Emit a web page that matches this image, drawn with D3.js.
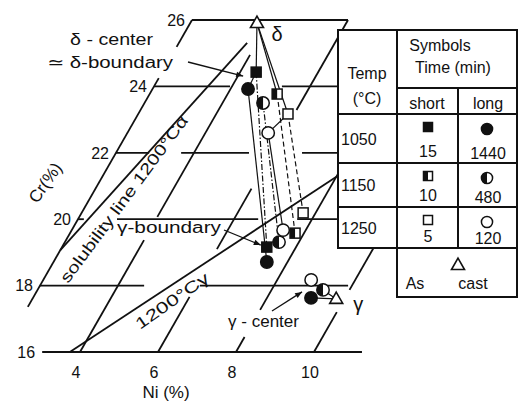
<!DOCTYPE html>
<html><head><meta charset="utf-8">
<script src="https://cdn.jsdelivr.net/npm/d3@7"></script>
<style>
body{margin:0;background:#fff}
svg{display:block}
text{font-family:"Liberation Sans",Arial,"DejaVu Sans",sans-serif;fill:#111}
</style>
</head><body>
<svg id="c" width="522" height="403"></svg>
<script>
// Ni–Cr composition chart on an oblique grid (Cr rises vertically, Ni lines lean right)
const crTicks = [16, 18, 20, 22, 24, 26];
const niTicks = [4, 6, 8, 10];

// heat treatments
const temps = [1050, 1150, 1250];
const shortTimes = [15, 10, 5];
const longTimes = [1440, 480, 120];

// symbol per measurement: square = short time, circle = long time
const symbolKeys = ["sqFull", "ciFull", "sqHalf", "ciHalf", "sqOpen", "ciOpen"];
// delta-ferrite center (≈ delta boundary), Ni % and Cr %
const deltaNi = [4.41, 4.45, 5.27, 5.04, 5.84, 5.61];
const deltaCr = [24.43, 23.92, 23.77, 23.50, 23.17, 22.60];
// gamma side of the delta/gamma boundary
const gBoundNi = [7.25, 7.47, 7.77, 7.49, 7.68, 7.42];
const gBoundCr = [19.16, 18.71, 19.58, 19.31, 20.19, 19.67];
// gamma center
const gCenterKeys = ["ciOpen", "ciHalf", "ciFull"];
const gCenterNi = [8.87, 9.32, 9.13];
const gCenterCr = [18.17, 17.87, 17.63];
// as-cast compositions [Ni, Cr]
const asCastDelta = [3.71, 25.91];
const asCastGamma = [9.79, 17.60];
// 1200 °C solubility lines, endpoints [Ni], [Cr]
const solAlphaNi = [2.0, 3.75];
const solAlphaCr = [19.07, 25.31];
const solGammaNi = [3.74, 8.1];
const solGammaCr = [16.0, 21.4];

const svg = d3.select("#c");
const ink = "#111";

const yCr = d3.scaleLinear().domain([16, 26]).range([352, 20]);
const xNi = d3.scaleLinear().domain([4, 10]).range([80, 314]);
const lean = 19 / 33.2;
function P(ni, cr) { const y = yCr(cr); return [xNi(ni) + lean * (yCr(16) - y), y]; }
const line = d3.line();

const gGrid = svg.append("g").attr("stroke", ink).attr("stroke-width", 1.8).attr("fill", "none");

// constant-Cr lines, drawn as Ni ranges (broken where labels and data sit)
const crSegs = {
  16: [[3.03, 11.23]],
  18: [[2.0, 4.67], [6.1, 9.9]],
  20: [[2.0, 2.15], [3.0, 6.62], [7.62, 8.64]],
  22: [[2.0, 2.85], [3.67, 5.41], [6.77, 7.8]],
  24: [[2.0, 3.95], [5.28, 6.7]],
  26: [[2.0, 6.0]]
};
crTicks.forEach(cr => crSegs[cr].forEach(s =>
  gGrid.append("path").attr("d", line([P(s[0], cr), P(s[1], cr)]))));

// constant-Ni lines, drawn as Cr ranges
const niSegs = {
  2: [[17.36, 24.25], [25.19, 26.0]],
  4: [[16, 19.37], [20.07, 24.95]],
  6: [[16, 17.66], [19.1, 20.92], [23.29, 26.0]],
  8: [[16, 16.45], [17.27, 21.6]],
  10: [[16, 17.2], [17.87, 19.3]]
};
Object.keys(niSegs).forEach(ni => niSegs[ni].forEach(s =>
  gGrid.append("path").attr("d", line([P(+ni, s[0]), P(+ni, s[1])]))));

// 1200 °C solubility lines
gGrid.append("path").attr("d", line(solAlphaNi.map((n, i) => P(n, solAlphaCr[i]))));
gGrid.append("path").attr("d", line(solGammaNi.map((n, i) => P(n, solGammaCr[i]))));

// Cr tick labels, left of each line's start
svg.append("g").selectAll("text").data(crTicks).join("text")
  .attr("x", d => P(crSegs[d][0][0], d)[0] - 7)
  .attr("y", d => P(crSegs[d][0][0], d)[1])
  .attr("dy", "0.36em").attr("text-anchor", "end").attr("font-size", 16)
  .text(d => d);

// Ni tick labels under the Cr 16 line
svg.append("g").selectAll("text").data(niTicks).join("text")
  .attr("x", d => P(d, 16)[0] - 4).attr("y", yCr(16) + 26)
  .attr("text-anchor", "middle").attr("font-size", 16).text(d => d);

svg.append("text").attr("x", 166).attr("y", 398).attr("text-anchor", "middle")
  .attr("font-size", 17).text("Ni (%)");
svg.append("text").attr("transform", "translate(50,186) rotate(-55)")
  .attr("text-anchor", "middle").attr("font-size", 17).text("Cr(%)");

// curve names along the solubility lines
svg.append("text").attr("transform", "translate(68,284) rotate(-53.5)")
  .attr("font-size", 16).attr("textLength", 203).attr("lengthAdjust", "spacingAndGlyphs")
  .text("solubility line 1200°Cα");
svg.append("text").attr("transform", "translate(140,330) rotate(-35)")
  .attr("font-size", 16).attr("textLength", 86).attr("lengthAdjust", "spacingAndGlyphs")
  .text("1200°Cγ");

// connecting lines
const gLines = svg.append("g").attr("stroke", ink).attr("fill", "none").attr("stroke-width", 1.2);
const dashOf = { sqFull: "6,2,1.5,2", ciFull: null, sqHalf: "5,3", ciHalf: "6,2,1.5,2", sqOpen: "5,3", ciOpen: null };
symbolKeys.forEach((k, i) => {
  gLines.append("path")
    .attr("d", line([P(deltaNi[i], deltaCr[i]), P(gBoundNi[i], gBoundCr[i])]))
    .attr("stroke-dasharray", dashOf[k]);
});
const iOf = k => symbolKeys.indexOf(k);
const dPt = k => P(deltaNi[iOf(k)], deltaCr[iOf(k)]);
const aD = P(asCastDelta[0], asCastDelta[1]);
gLines.append("path").attr("d", line([aD, dPt("sqFull")]));
gLines.append("path").attr("d", line([dPt("sqFull"), dPt("ciFull")]));
gLines.append("path").attr("d", line([aD, dPt("sqHalf")]));
gLines.append("path").attr("d", line([aD, dPt("sqOpen")]));
gLines.append("path").attr("d", line([dPt("sqOpen"), dPt("ciOpen")]));
const aG = P(asCastGamma[0], asCastGamma[1]);
gLines.append("path").attr("d", line([aG, P(gCenterNi[2], gCenterCr[2])]));
gLines.append("path").attr("d", line([aG, P(gCenterNi[1], gCenterCr[1])]));

// marker drawing
function mark(g, key, x, y, s) {
  const h = s / 2, r = s * 0.62;
  if (key.startsWith("sq")) {
    g.append("rect").attr("x", x - h).attr("y", y - h).attr("width", s).attr("height", s)
      .attr("fill", key === "sqFull" ? ink : "#fff").attr("stroke", ink).attr("stroke-width", 1.5);
    if (key === "sqHalf") g.append("rect").attr("x", x - h).attr("y", y - h)
      .attr("width", h).attr("height", s).attr("fill", ink);
  } else {
    g.append("circle").attr("cx", x).attr("cy", y).attr("r", r)
      .attr("fill", key === "ciFull" ? ink : "#fff").attr("stroke", ink).attr("stroke-width", 1.5);
    if (key === "ciHalf") g.append("path")
      .attr("d", `M${x},${y - r}A${r},${r} 0 0 0 ${x},${y + r}Z`).attr("fill", ink);
  }
}
function tri(g, x, y, s) {
  const h = s * 0.87;
  g.append("path").attr("d", `M${x},${y - h * 0.6}L${x + s / 2},${y + h * 0.4}L${x - s / 2},${y + h * 0.4}Z`)
    .attr("fill", "#fff").attr("stroke", ink).attr("stroke-width", 1.6);
}

const gMarks = svg.append("g");
symbolKeys.forEach((k, i) => {
  const a = P(deltaNi[i], deltaCr[i]); mark(gMarks, k, a[0], a[1], 10);
  const b = P(gBoundNi[i], gBoundCr[i]); mark(gMarks, k, b[0], b[1], 10);
});
gCenterKeys.forEach((k, i) => { const c = P(gCenterNi[i], gCenterCr[i]); mark(gMarks, k, c[0], c[1], 10); });
tri(gMarks, aD[0], aD[1], 13);
tri(gMarks, aG[0], aG[1], 13);

// annotations
svg.append("defs").append("marker").attr("id", "ah").attr("viewBox", "0 0 10 10")
  .attr("refX", 10).attr("refY", 5).attr("markerWidth", 9).attr("markerHeight", 7)
  .attr("markerUnits", "userSpaceOnUse").attr("orient", "auto")
  .append("path").attr("d", "M0,1L10,5L0,9Z").attr("fill", ink);
function arrow(x0, y0, x1, y1) {
  svg.append("path").attr("d", line([[x0, y0], [x1, y1]])).attr("stroke", ink)
    .attr("stroke-width", 1.3).attr("marker-end", "url(#ah)");
}
const sqD = dPt("sqFull");
arrow(188, 62, sqD[0] - 13, sqD[1] + 4);
const sqG = P(gBoundNi[0], gBoundCr[0]);
arrow(224, 230, sqG[0] - 6, sqG[1] - 2);
const ciG = P(gCenterNi[2], gCenterCr[2]);
arrow(272, 311, ciG[0] - 9, ciG[1] - 6);

function label(x, y, t, len, fs) {
  svg.append("text").attr("x", x).attr("y", y).attr("font-size", fs || 16)
    .attr("textLength", len).attr("lengthAdjust", "spacingAndGlyphs").text(t);
}
label(70, 45, "δ - center", 83);
label(47, 68, "≃ δ-boundary", 126);
label(117, 233, "γ-boundary", 104);
label(228, 327, "γ - center", 71);
svg.append("text").attr("x", aD[0] + 20).attr("y", aD[1] + 18).attr("text-anchor", "middle")
  .attr("font-size", 20).text("δ");
svg.append("text").attr("x", aG[0] + 22).attr("y", aG[1] + 12).attr("text-anchor", "middle")
  .attr("font-size", 20).text("γ");

// legend table
const tx = [338, 397, 458, 517];
const ty = { top: 30, head: 88, sub: 114, r1: 163, r2: 207, r3: 248, cast: 297 };
const gT = svg.append("g").attr("stroke", ink).attr("stroke-width", 2).attr("fill", "none");
gT.append("rect").attr("x", tx[0]).attr("y", ty.top).attr("width", tx[3] - tx[0]).attr("height", ty.r3 - ty.top).attr("fill", "#fff");
gT.append("rect").attr("x", tx[1]).attr("y", ty.r3).attr("width", tx[3] - tx[1]).attr("height", ty.cast - ty.r3).attr("fill", "#fff");
const hl = (x0, x1, y) => gT.append("path").attr("d", line([[x0, y], [x1, y]]));
const vl = (x, y0, y1) => gT.append("path").attr("d", line([[x, y0], [x, y1]]));
hl(tx[1], tx[3], ty.head); hl(tx[0], tx[3], ty.sub); hl(tx[0], tx[3], ty.r1); hl(tx[0], tx[3], ty.r2);
vl(tx[1], ty.top, ty.cast); vl(tx[2], ty.head, ty.r3);

const tt = (x, y, t, anchor) => svg.append("text").attr("x", x).attr("y", y)
  .attr("text-anchor", anchor || "middle").attr("font-size", 16).text(t);
tt(367, 79, "Temp"); tt(367, 104, "(°C)");
tt(440, 51, "Symbols"); tt(453, 73, "Time (min)");
tt(427, 109, "short"); tt(488, 109, "long");
const rowTop = [ty.sub, ty.r1, ty.r2], rowBot = [ty.r1, ty.r2, ty.r3];
temps.forEach((t, i) => {
  const mid = (rowTop[i] + rowBot[i]) / 2;
  tt(341, mid + 6, t, "start");
  mark(svg, symbolKeys[i * 2], 428, rowTop[i] + 13, 9);
  tt(428, rowBot[i] - 6, shortTimes[i]);
  mark(svg, symbolKeys[i * 2 + 1], 487, rowTop[i] + 15, 9);
  tt(488, rowBot[i] - 4, longTimes[i]);
});
tri(svg, 458, 265, 13);
tt(415, 289, "As"); tt(473, 289, "cast");
</script>
</body></html>
